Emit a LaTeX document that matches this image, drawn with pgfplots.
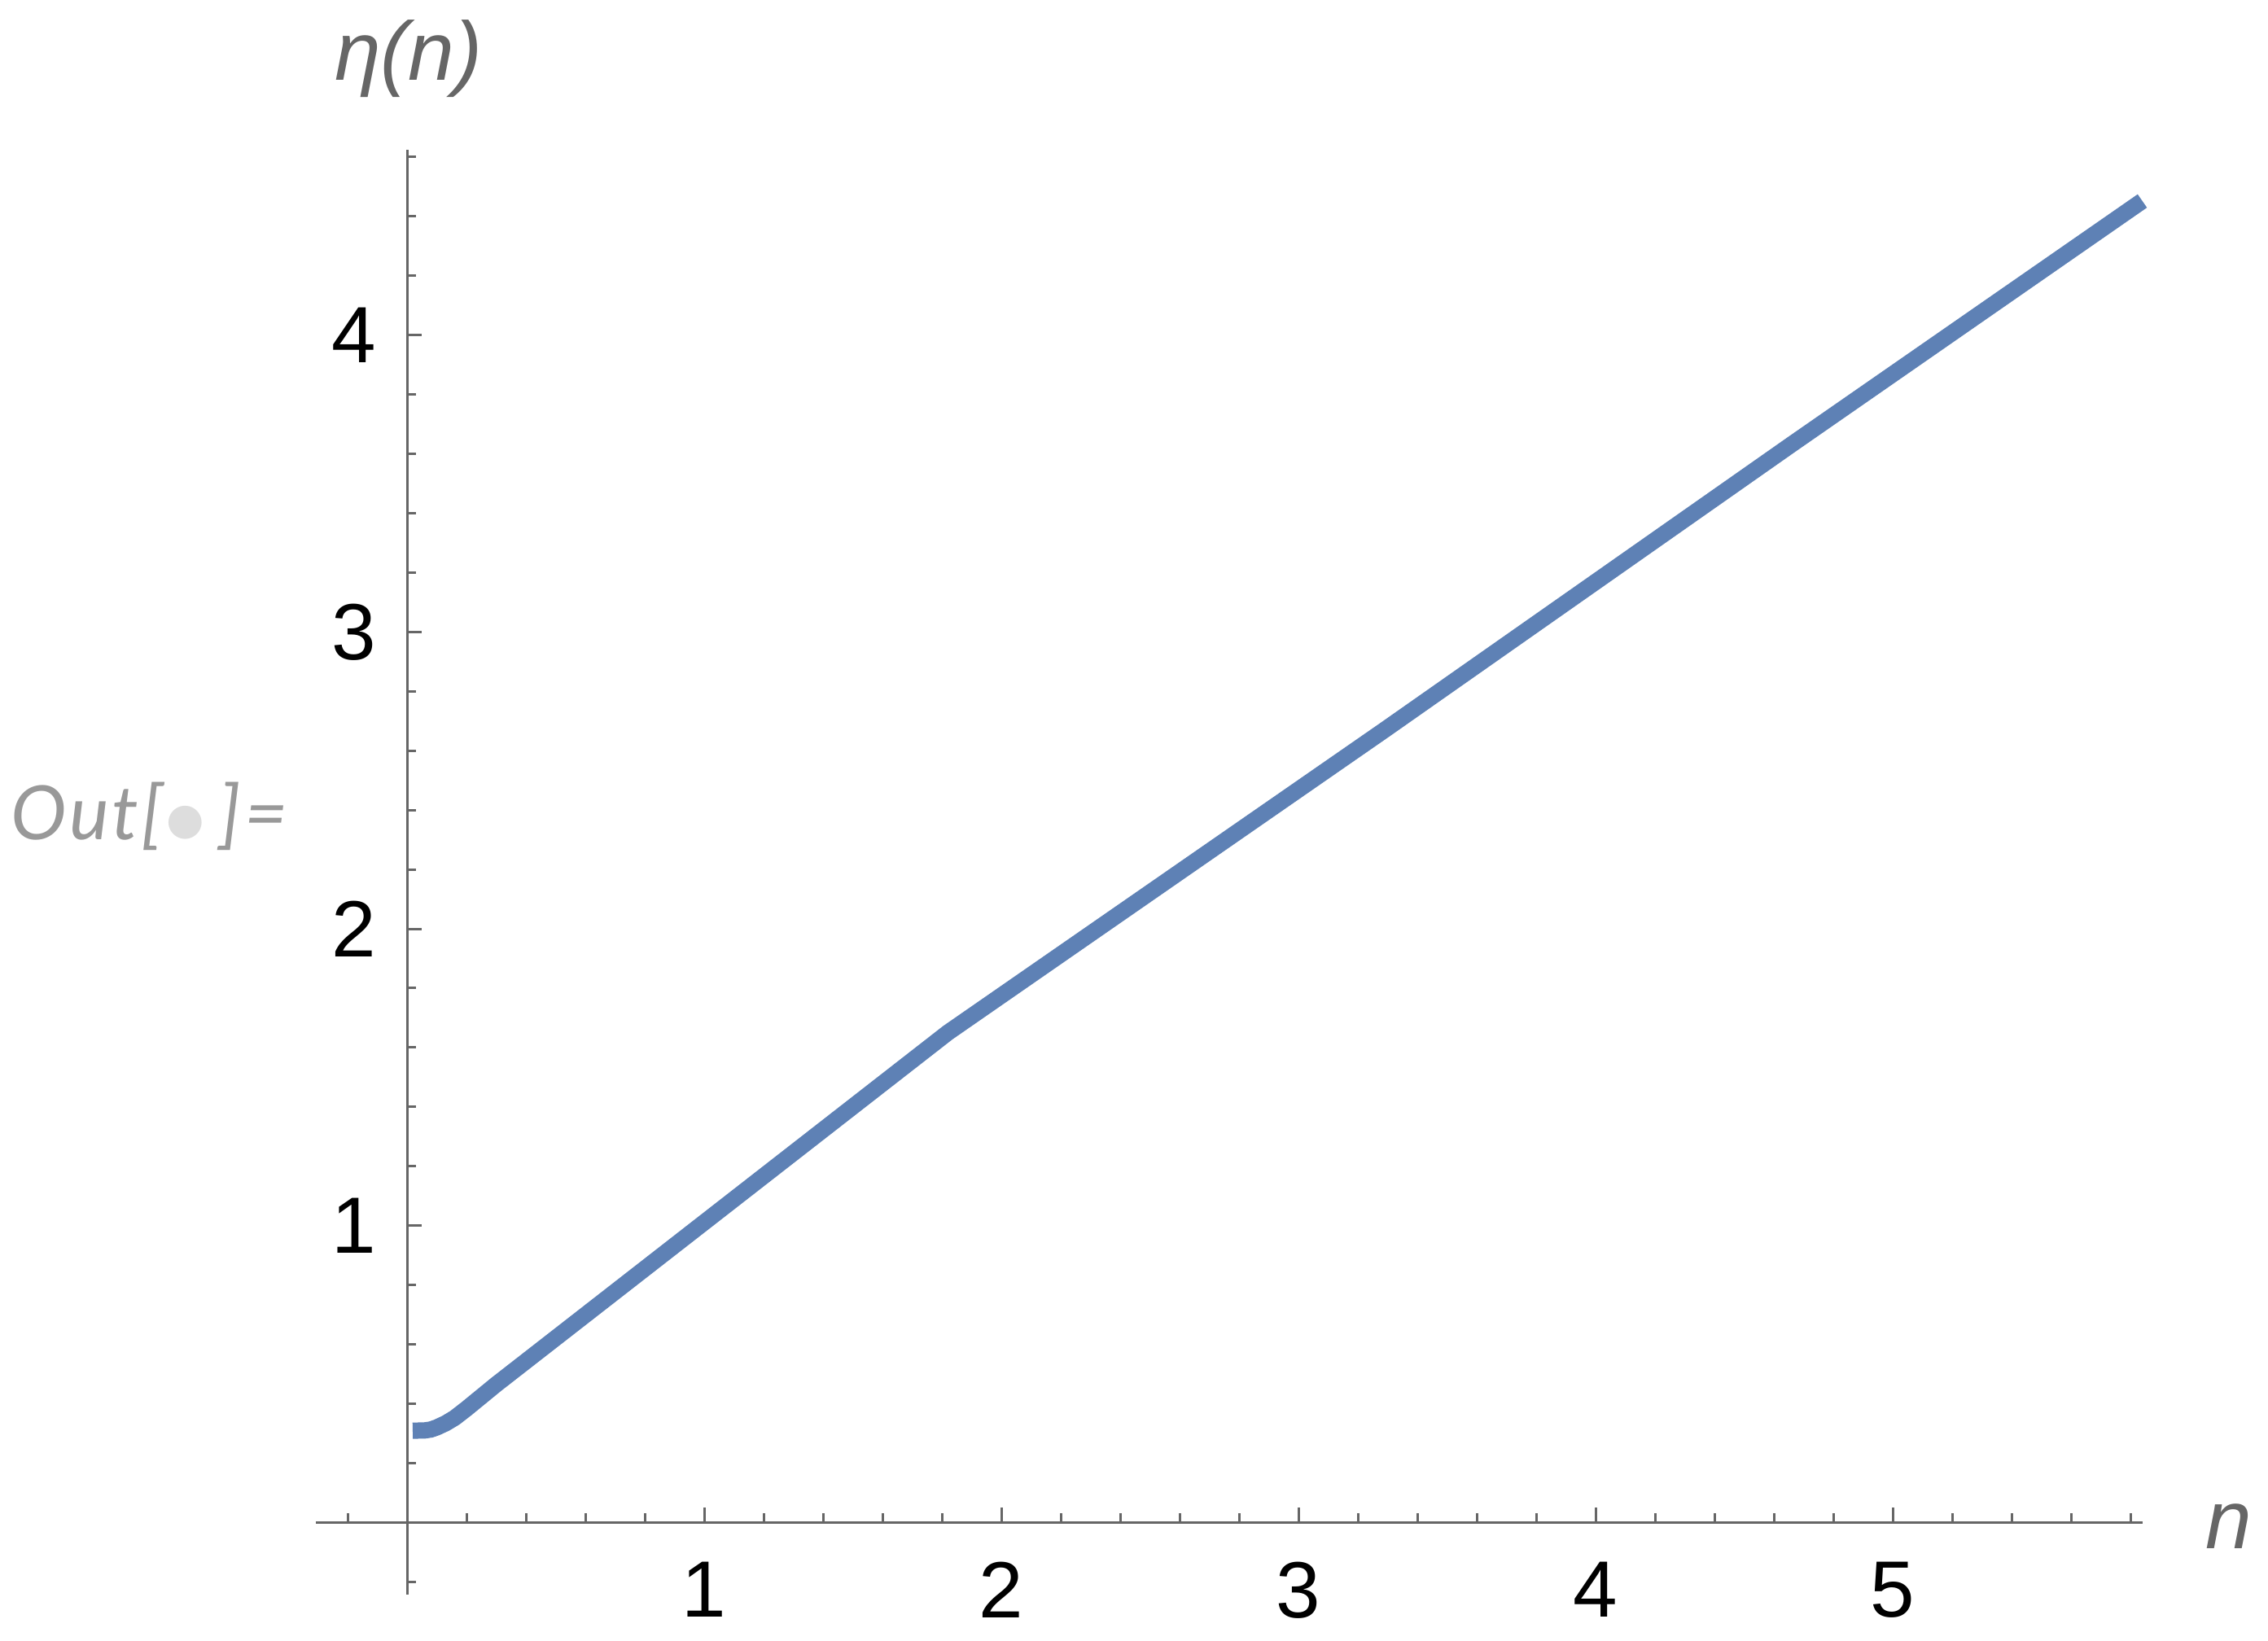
\documentclass[border=0pt]{standalone}
\usepackage{pgfplots}
\pgfplotsset{compat=1.18}
\usepackage{fontspec}
\setmainfont{Liberation Sans}
\newfontfamily\outfont[LetterSpace=4]{Lato}
\newfontfamily\dejavu{DejaVu Sans}

\definecolor{mmablue}{RGB}{94,129,181}
\definecolor{axgray}{RGB}{102,102,102}
\definecolor{outgray}{RGB}{153,153,153}
\definecolor{dotgray}{RGB}{221,221,221}

\begin{document}
\begin{tikzpicture}
\begin{axis}[
    x=54.75pt, y=54.7pt,
    axis lines=middle,
    axis line style={-, axgray, line width=0.45pt},
    xmin=-0.307, xmax=5.84,
    ymin=-0.242, ymax=4.625,
    xtick={0,1,2,3,4,5},
    xticklabels={,1,2,3,4,5},
    ytick={0,1,2,3,4},
    yticklabels={,1,2,3,4},
    minor xtick={-0.2,0,...,5.8},
    minor ytick={-0.2,0,...,4.6},
    tick align=inside,
    major tick length=2.7pt,
    minor tick length=1.65pt,
    every tick/.style={axgray, line width=0.45pt},
    every minor tick/.style={axgray, line width=0.45pt},
    x tick label style={inner sep=0pt, anchor=north, yshift=-7.05pt,
        font=\fontsize{14.7}{17}\selectfont},
    y tick label style={inner sep=0pt, anchor=east, xshift=-5.5pt,
        font=\fontsize{14.7}{17}\selectfont},
    clip=false,
]
% eta(n) curve
\addplot[mmablue, line width=3pt, no markers] coordinates {
(0.019,0.309) (0.06,0.310) (0.08,0.313) (0.10,0.320) (0.13,0.334)
(0.16,0.352) (0.20,0.383) (0.25,0.424) (0.30,0.465) (1.82,1.650)
(3.29,2.670) (4.66,3.632) (5.84,4.452)
};

% axis labels
\node[axgray, inner sep=0pt, font=\fontsize{15.3}{18}\selectfont\itshape]
    at (axis cs:0.005,4.930) {η(n)};
\node[axgray, inner sep=0pt, font=\fontsize{15.3}{18}\selectfont\itshape]
    at (axis cs:6.132,-0.012) {n};

% Out[.]= prompt
\node[outgray, inner sep=0pt, anchor=base west, font=\fontsize{13.8}{16}\selectfont\outfont\itshape]
    at (axis cs:-1.337,2.301) {Out[\kern0.6pt\raisebox{1pt}{\color{dotgray}\fontsize{8}{9}\selectfont\dejavu ●}\kern2.8pt]=};

% page size
\path (axis cs:-1.370,-0.398) rectangle (axis cs:6.263,5.129);
\end{axis}
\end{tikzpicture}
\end{document}
